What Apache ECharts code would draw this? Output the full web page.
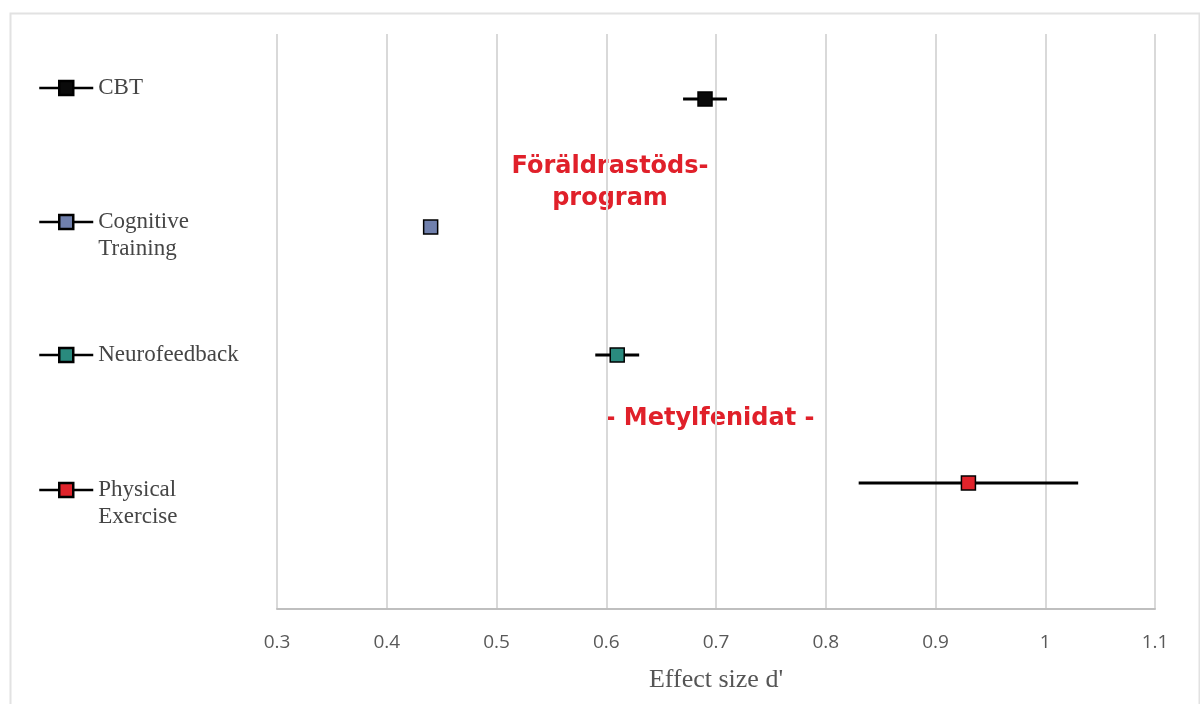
<!DOCTYPE html>
<html>
<head>
<meta charset="utf-8">
<script src="https://cdn.jsdelivr.net/npm/echarts@6/dist/echarts.min.js"></script>
<style>html,body{margin:0;padding:0;background:#fff}#chart{width:1200px;height:704px}</style>
</head>
<body>
<div id="chart"></div>
<script>
const categories = ['CBT', 'Cognitive Training', 'Neurofeedback', 'Physical Exercise'];
const legendLabels = ['CBT', '\nCognitive\nTraining', 'Neurofeedback', '\nPhysical\nExercise'];
const rowPositions = [4, 3, 2, 1];
const effectSizes = [0.69, 0.44, 0.61, 0.93];
const ciLow = [0.67, 0.44, 0.59, 0.83];
const ciHigh = [0.71, 0.44, 0.63, 1.03];
const markerColors = ['#0a0a0a', '#7080ad', '#2a8a7e', '#e0232b'];
const xTicks = { min: 0.3, max: 1.1, interval: 0.1 };
const xAxisTitle = "Effect size d'";
const annotations = ['Föräldrastöds-\nprogram', '- Metylfenidat -'];

const chart = echarts.init(document.getElementById('chart'));

const iconPath = 'path://M0,8 L20,8 M34,8 L54,8 M20,1 L34,1 L34,15 L20,15 Z';
const legendCenters = [88, 222, 355, 490];
const legends = categories.map((c, i) => {
  const lines = legendLabels[i].split('\n').length;
  const h = 27 * lines;
  return {
    data: [c],
    left: 38,
    top: legendCenters[i] - h / 2,
    padding: 0,
    icon: iconPath,
    itemWidth: 54,
    itemHeight: 16,
    selectedMode: false,
    itemStyle: { borderColor: '#000', borderWidth: 2.5 },
    formatter: () => legendLabels[i],
    textStyle: {
      fontFamily: 'Liberation Serif',
      fontSize: 23,
      color: '#454545',
      lineHeight: 27
    }
  };
});

const errData = categories.map((c, i) => [rowPositions[i], ciLow[i], ciHigh[i]]);

const series = [{
  type: 'custom',
  name: 'ci',
  z: 2,
  renderItem: function (params, api) {
    const y = api.value(0);
    const p1 = api.coord([api.value(1), y]);
    const p2 = api.coord([api.value(2), y]);
    return {
      type: 'line',
      shape: { x1: p1[0], y1: p1[1], x2: p2[0], y2: p2[1] },
      style: { stroke: '#000', lineWidth: 3 }
    };
  },
  encode: { x: [1, 2], y: 0 },
  data: errData,
  silent: true
}];
categories.forEach((c, i) => {
  series.push({
    type: 'scatter',
    name: c,
    z: 5,
    symbol: 'rect',
    symbolSize: 14,
    itemStyle: { color: markerColors[i], borderColor: '#000', borderWidth: 1.5, opacity: 1 },
    data: [[effectSizes[i], rowPositions[i]]]
  });
});

chart.setOption({
  animation: false,
  backgroundColor: '#fff',
  legend: legends,
  grid: { left: 277, right: 45, top: 34, bottom: 95 },
  xAxis: {
    type: 'value',
    min: xTicks.min,
    max: xTicks.max,
    interval: xTicks.interval,
    name: xAxisTitle,
    nameLocation: 'middle',
    nameGap: 58,
    nameTextStyle: { fontFamily: 'Liberation Serif', fontSize: 26, color: '#555' },
    axisLine: { show: true, lineStyle: { color: '#bfbfbf', width: 2 } },
    axisTick: { show: false },
    axisLabel: {
      margin: 24,
      fontFamily: 'Open Sans',
      fontSize: 19,
      color: '#595959',
      formatter: v => String(Math.round(v * 10) / 10)
    },
    splitLine: { show: true, lineStyle: { color: '#d9d9d9', width: 2 } }
  },
  yAxis: {
    type: 'value',
    min: 0.016,
    max: 4.508,
    show: false,
    splitLine: { show: false }
  },
  graphic: [
    {
      type: 'rect',
      left: 8, top: 11,
      shape: { width: 1189, height: 694 },
      style: { fill: 'none', stroke: '#e2e2e2', lineWidth: 2 },
      silent: true, z: -1
    },
    {
      type: 'text',
      x: 610, y: 183,
      style: {
        text: annotations[0],
        font: 'bold 24px "DejaVu Sans"',
        fill: '#e0202a',
        textAlign: 'center',
        textVerticalAlign: 'middle',
        lineHeight: 32
      }
    },
    {
      type: 'text',
      x: 710, y: 419,
      style: {
        text: annotations[1],
        font: 'bold 24px "DejaVu Sans"',
        fill: '#e0202a',
        textAlign: 'center',
        textVerticalAlign: 'middle'
      }
    }
  ],
  series: series
});
</script>
</body>
</html>
